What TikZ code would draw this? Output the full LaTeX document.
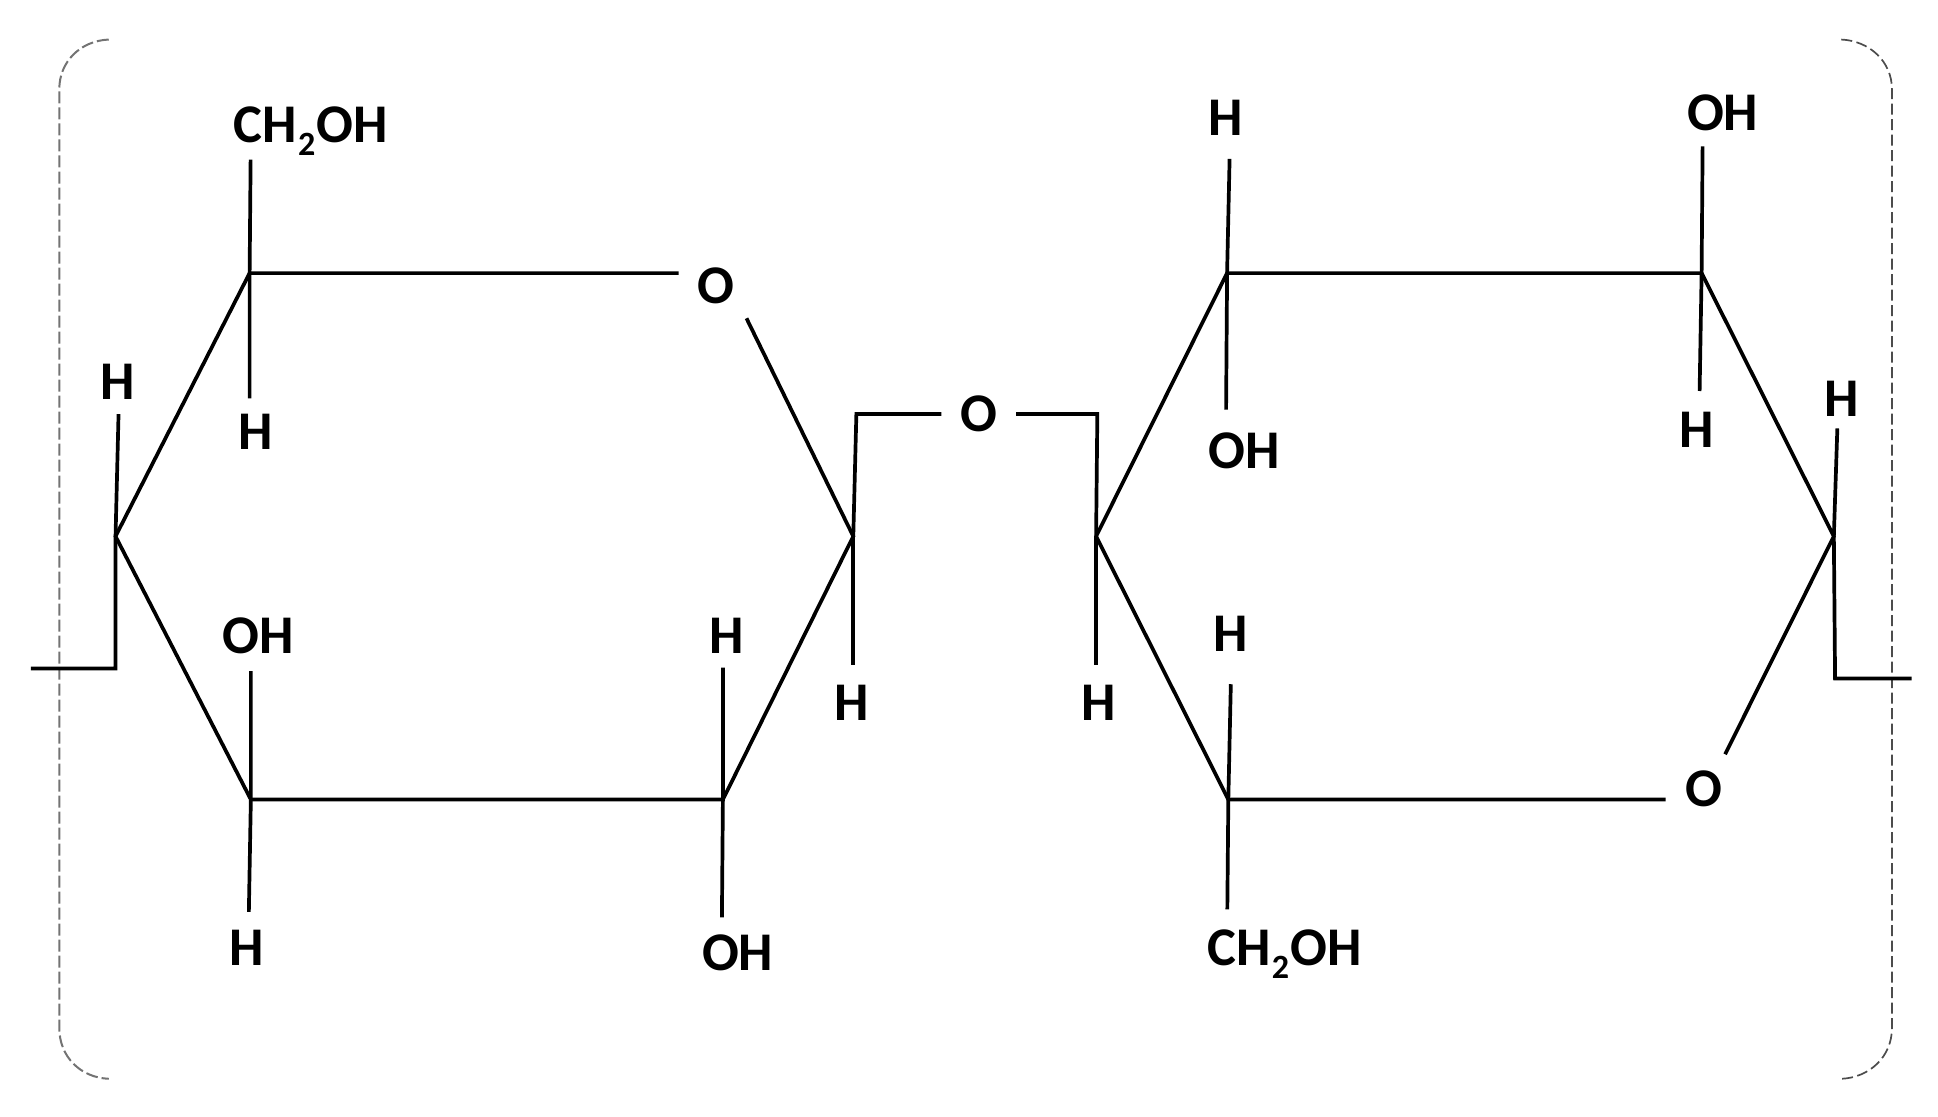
\documentclass[tikz,border=0pt]{standalone}
\usepackage{fontspec}
\setmainfont{Carlito}
\newcommand{\subtwo}{\kern1.5pt\raisebox{-13pt}{\fontsize{34}{36}\selectfont 2}\kern1.5pt}
\tikzset{
  bond/.style={line width=3.7pt,line join=miter,line cap=butt,draw=black},
  lbl/.style={inner sep=0pt,outer sep=#1,anchor=base,font=\fontsize{54.5}{60}\selectfont\bfseries,text=black},
  lbl/.default=14pt,
  frameA/.style={draw=black!55,line width=2pt,dash pattern=on 12pt off 4pt},
  frameB/.style={draw=black!70,line width=1.7pt,dash pattern=on 11pt off 4.5pt}
}
\begin{document}
\begin{tikzpicture}[x=1.2357pt,y=-1.2357pt]
\useasboundingbox (0,0) rectangle (1568.3,903.9);
% frame
\draw[frameA] (88,32) .. controls (65,33) and (48,50) .. (48,72) -- (48,832) .. controls (48,855) and (65,872) .. (88,873);
\draw[frameB] (1490,32) .. controls (1513,33) and (1531,50) .. (1531,72) -- (1531,832) .. controls (1531,855) and (1513,872) .. (1490,873);
% ring atoms (vertices)
\coordinate (a1) at (93.5,434);
\coordinate (a2) at (202,221);
\coordinate (a3) at (690.5,434);
\coordinate (a4) at (585,647);
\coordinate (a5) at (203,647);
\coordinate (b1) at (887,434);
\coordinate (b2) at (993,221);
\coordinate (b3) at (1377,221);
\coordinate (b4) at (1484,434);
\coordinate (b5) at (994,647);
\coordinate (t1) at (93.5,541);
\coordinate (e1) at (25,541);
\coordinate (t2) at (1485,549);
\coordinate (e2) at (1547,549);
\coordinate (k1) at (693,335);
\coordinate (k2) at (888,335);
% labels
\node[lbl=4pt] (ch1) at (251.5,115.5) {CH\subtwo OH};
\node[lbl=16pt] (h1) at (207,364) {H};
\node[lbl=15pt] (h2) at (95,323) {H};
\node[lbl=17pt] (oh1) at (209,529) {OH};
\node[lbl=18.5pt] (o1) at (579,246) {O};
\node[lbl=14pt] (h3) at (588,529) {H};
\node[lbl=18pt] (h4) at (199.5,781) {H};
\node[lbl=17pt] (oh2) at (597,785) {OH};
\node[lbl=20pt] (h5) at (689,583) {H};
\node[lbl=20pt] (h6) at (889,583) {H};
\node[lbl=19pt] (o2) at (792,349) {O};
\node[lbl=23pt] (h7) at (992,110) {H};
\node[lbl=23pt] (oh3) at (1007,379) {OH};
\node[lbl=15pt] (oh4) at (1394,106) {OH};
\node[lbl=21pt] (h8) at (1373,362) {H};
\node[lbl=12pt] (h9) at (1490,337) {H};
\node[lbl=33pt] (h10) at (996,527) {H};
\node[lbl=20pt] (o3) at (1379,653) {O};
\node[lbl=20pt] (ch2) at (1039.5,781) {CH\subtwo OH};
% ring 1
\draw[bond] (o1.west |- a2) -- (a2) -- (a1) -- (a5) -- (a4) -- (a3) -- ([xshift=31pt,yshift=-32pt]o1.center);
% ring 2
\draw[bond] (b1) -- (b2) -- (b3) -- (b4) -- ([xshift=21pt,yshift=35pt]o3.center);
\draw[bond] (b1) -- (b5) -- (o3.west |- b5);
% bridge
\draw[bond] (a3) -- (k1) -- (o2.west |- k1);
\draw[bond] (o2.east |- k2) -- (k2) -- (b1);
% substituents
\draw[bond] ([xshift=1pt]ch1.south -| a2) -- (a2) -- (h1.north -| a2);
\draw[bond] ([xshift=3pt]h2.south -| a1) -- (a1) -- (t1) -- (e1);
\draw[bond] (oh1.south -| a5) -- (a5) -- ([xshift=-2pt]h4.north -| a5);
\draw[bond] (h3.south -| a4) -- (a4) -- ([xshift=-1pt]oh2.north -| a4);
\draw[bond] (a3) -- (h5.north -| a3);
\draw[bond] (b1) -- (h6.north -| b1);
\draw[bond] ([xshift=2.5pt]h7.south -| b2) -- (b2) -- ([xshift=-1pt]oh3.north -| b2);
\draw[bond] ([xshift=1pt]oh4.south -| b3) -- (b3) -- ([xshift=-2pt]h8.north -| b3);
\draw[bond] ([xshift=3.5pt]h9.south -| b4) -- (b4) -- (t2) -- (e2);
\draw[bond] ([xshift=2.5pt]h10.south -| b5) -- (b5) -- ([xshift=-1pt]ch2.north -| b5);
\end{tikzpicture}
\end{document}
